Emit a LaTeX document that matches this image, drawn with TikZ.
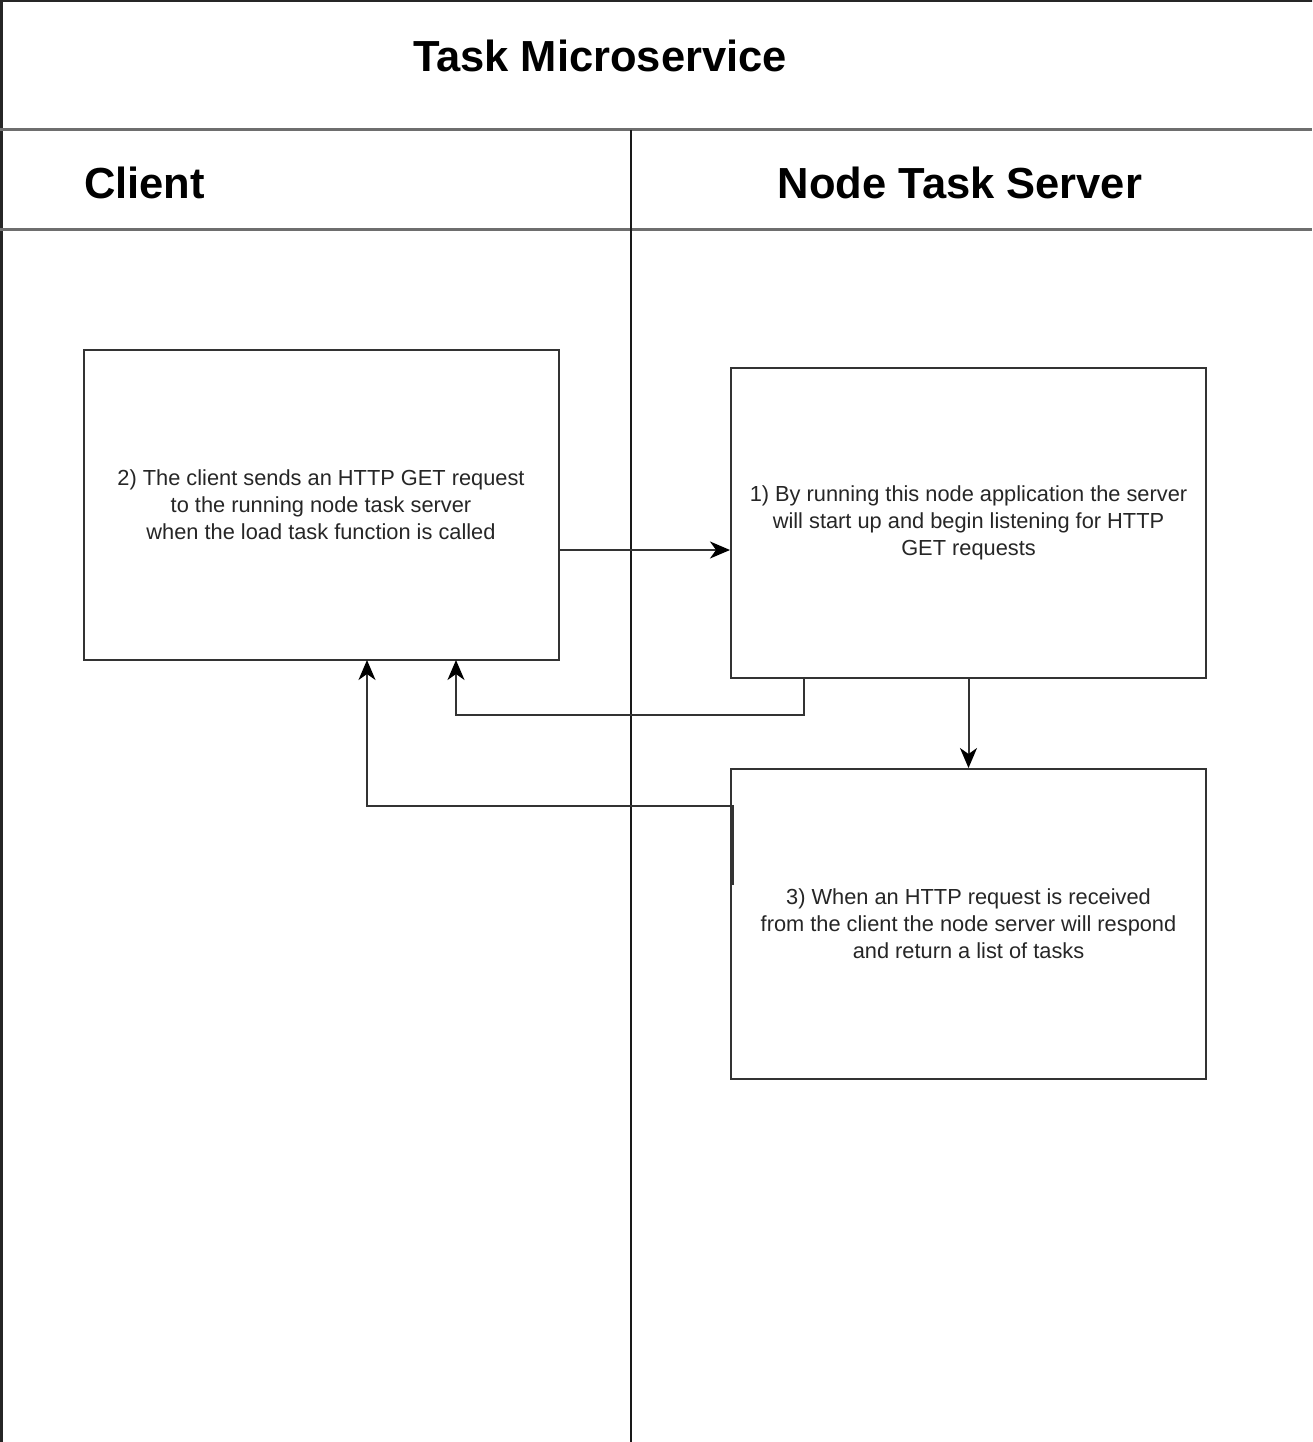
\documentclass[tikz,border=0pt]{standalone}
\usepackage{fontspec}
\setmainfont{Liberation Sans}
\usetikzlibrary{arrows.meta}
\definecolor{boxline}{HTML}{333333}
\definecolor{hline}{HTML}{6E6E6E}
\tikzset{
  stepbox/.style={draw=boxline, line width=2pt, minimum width=475pt, minimum height=310pt, inner sep=0pt, align=center, font=\fontsize{21.8}{27}\selectfont, text=black!85},
  flow/.style={draw=boxline, line width=2pt, -{Stealth[length=20pt,width=17pt,inset=6pt,color=black]}},
  heading/.style={font=\fontsize{43.5}{50}\bfseries\selectfont, inner sep=0pt, anchor=base}
}
\begin{document}
\begin{tikzpicture}[x=1pt,y=-1pt]
\useasboundingbox (0,0) rectangle (1312,1442);
\begin{scope}
\clip (0,0) rectangle (1312,1442);
\fill[white] (0,0) rectangle (1312,1442);
% outer frame
\draw[line width=3pt, color=black!85] (1,1) rectangle (1330,1460);
% header separators
\draw[line width=3pt, color=hline] (0,130) -- (1312,130);
\draw[line width=3pt, color=hline] (0,229) -- (1312,229);
% lane divider
\draw[line width=2.5pt, color=black!90] (631,130) -- (631,1460);
\end{scope}
% headings
\node[heading] (title) at (600,72) {Task Microservice};
\node[heading, anchor=base west] (client) at (84,199) {Client};
\node[heading] (server) at (960,199) {Node Task Server};
% boxes
\node[stepbox] (b2) at (321,505) {2) The client sends an HTTP GET request\\to the running node task server\\when the load task function is called};
\node[stepbox] (b1) at (968.5,523) {1) By running this node application the server\\will start up and begin listening for HTTP\\GET requests};
\node[stepbox] (b3) at (968.5,924) {3) When an HTTP request is received\\from the client the node server will respond\\and return a list of tasks};
% connectors
\draw[flow] (b2.east |- 0,550) -- (b1.west |- 0,550);
\draw[flow] (804,678) |- (456,715) -- (456,660);
\draw[flow] (b1.south) -- (b3.north);
\coordinate (b3out) at (733,885);
\draw[flow] (b3out) |- (367,806) -- (367,660);
\end{tikzpicture}
\end{document}
